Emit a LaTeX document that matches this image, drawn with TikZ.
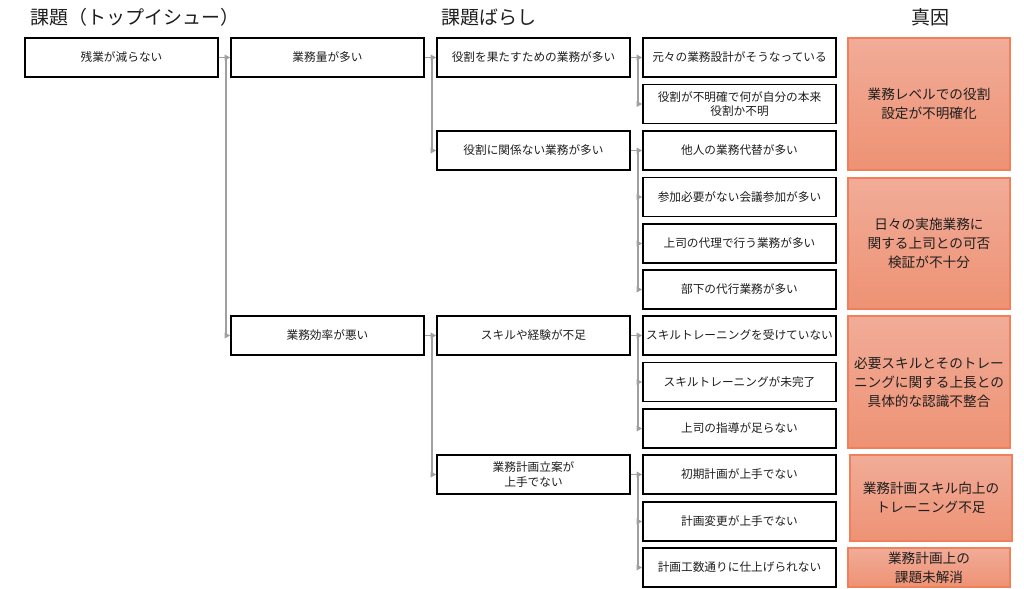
\documentclass[tikz,border=0pt]{standalone}
\usepackage{fontspec}
\setmainfont{Noto Sans CJK JP}
\usetikzlibrary{arrows.meta}
\definecolor{linkgray}{RGB}{160,160,160}
\definecolor{causetop}{RGB}{241,172,152}
\definecolor{causebottom}{RGB}{238,146,116}
\definecolor{causeborder}{RGB}{240,128,90}
\definecolor{inktext}{RGB}{30,30,30}

\begin{document}
\begin{tikzpicture}[x=0.025cm, y=-0.025cm,
issuenode/.style={draw=black, line width=1.1pt, fill=white, text=inktext, minimum width=4.825cm, minimum height=0.975cm, inner sep=1pt, align=center, font=\fontsize{8.3}{10.5}\selectfont},
causenode/.style={draw=causeborder, line width=0.8pt, top color=causetop, bottom color=causebottom, text=inktext, minimum width=4.05cm, inner sep=1pt, align=center, font=\fontsize{9.7}{13.5}\selectfont},
headnode/.style={text=inktext, inner sep=0pt, font=\fontsize{13.5}{15}\selectfont},
link/.style={draw=linkgray, line width=1.3pt, -{Triangle[length=4pt,width=4pt]}}
]
    \useasboundingbox (0,0) rectangle (1024,589);

    \node[headnode] (h1) at (135,17){課題（トップイシュー）};
    \node[headnode] (h2) at (489,17){課題ばらし};
    \node[headnode] (h3) at (930,17){真因};

    \node[issuenode] (a1) at (121.5,57.5){残業が減らない};

    \node[issuenode] (b1) at (327.5,57.5){業務量が多い};
    \node[issuenode] (b2) at (327.5,335.5){業務効率が悪い};

    \node[issuenode] (c1) at (533.5,57.5){役割を果たすための業務が多い};
    \node[issuenode] (c2) at (533.5,150.5){役割に関係ない業務が多い};
    \node[issuenode] (c3) at (533.5,335.5){スキルや経験が不足};
    \node[issuenode] (c4) at (533.5,474.5){業務計画立案が\\上手でない};

    \node[issuenode] (d1) at (739.5,57.5){元々の業務設計がそうなっている};
    \node[issuenode] (d2) at (739.5,104){役割が不明確で何が自分の本来\\役割か不明};
    \node[issuenode] (d3) at (739.5,150.5){他人の業務代替が多い};
    \node[issuenode] (d4) at (739.5,197){参加必要がない会議参加が多い};
    \node[issuenode] (d5) at (739.5,243.5){上司の代理で行う業務が多い};
    \node[issuenode] (d6) at (739.5,289.5){部下の代行業務が多い};
    \node[issuenode] (d7) at (739.5,335.5){スキルトレーニングを受けていない};
    \node[issuenode] (d8) at (739.5,382){スキルトレーニングが未完了};
    \node[issuenode] (d9) at (739.5,428.5){上司の指導が足らない};
    \node[issuenode] (d10) at (739.5,474.5){初期計画が上手でない};
    \node[issuenode] (d11) at (739.5,521.5){計画変更が上手でない};
    \node[issuenode] (d12) at (739.5,567.5){計画工数通りに仕上げられない};

    \node[causenode, minimum height=3.3cm] (e1) at (929,104){業務レベルでの役割\\設定が不明確化};
    \node[causenode, minimum height=3.275cm] (e2) at (929,243.5){日々の実施業務に\\関する上司との可否\\検証が不十分};
    \node[causenode, minimum height=3.3cm] (e3) at (929,382){必要スキルとそのトレー\\ニングに関する上長との\\具体的な認識不整合};
    \node[causenode, minimum height=2.15cm] (e4) at (931,498){業務計画スキル向上の\\トレーニング不足};
    \node[causenode, minimum height=0.975cm] (e5) at (929,567.5){業務計画上の\\課題未解消};

    \draw[link] (a1.east) -- ++(7,0) |- (b1.west);
    \draw[link] (a1.east) -- ++(7,0) |- (b2.west);

    \draw[link] (b1.east) -- ++(7,0) |- (c1.west);
    \draw[link] (b1.east) -- ++(7,0) |- (c2.west);
    \draw[link] (b2.east) -- ++(7,0) |- (c3.west);
    \draw[link] (b2.east) -- ++(7,0) |- (c4.west);

    \draw[link] (c1.east) -- ++(7,0) |- (d1.west);
    \draw[link] (c1.east) -- ++(7,0) |- (d2.west);
    \draw[link] (c2.east) -- ++(7,0) |- (d3.west);
    \draw[link] (c2.east) -- ++(7,0) |- (d4.west);
    \draw[link] (c2.east) -- ++(7,0) |- (d5.west);
    \draw[link] (c2.east) -- ++(7,0) |- (d6.west);
    \draw[link] (c3.east) -- ++(7,0) |- (d7.west);
    \draw[link] (c3.east) -- ++(7,0) |- (d8.west);
    \draw[link] (c3.east) -- ++(7,0) |- (d9.west);
    \draw[link] (c4.east) -- ++(7,0) |- (d10.west);
    \draw[link] (c4.east) -- ++(7,0) |- (d11.west);
    \draw[link] (c4.east) -- ++(7,0) |- (d12.west);
\end{tikzpicture}
\end{document}
